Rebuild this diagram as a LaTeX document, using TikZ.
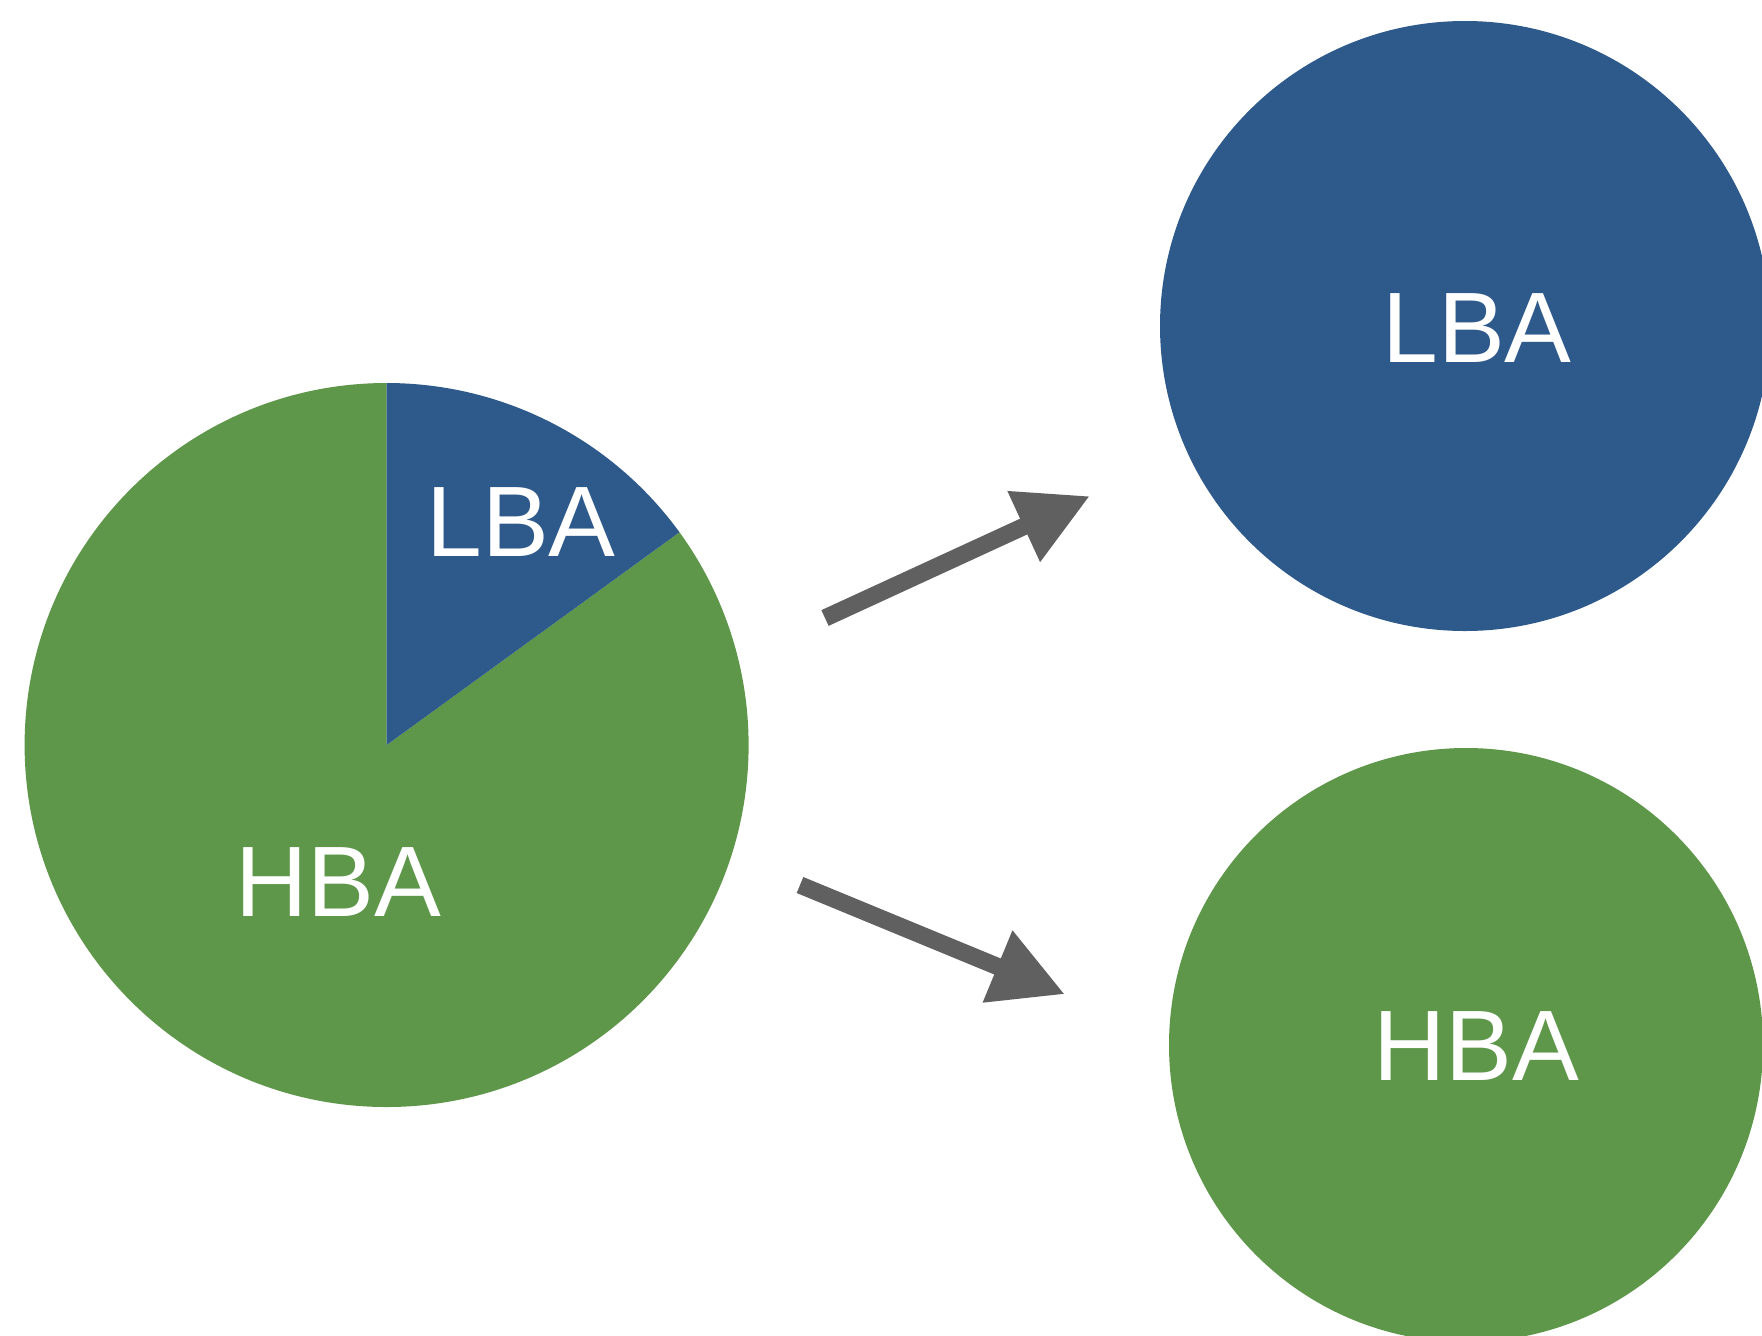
\documentclass[tikz,border=0pt]{standalone}
\usepackage{fontspec}
\setmainfont{Liberation Sans}
\usetikzlibrary{arrows.meta, positioning}
\definecolor{lbaBlue}{HTML}{2E598B}
\definecolor{hbaGreen}{HTML}{5E974A}
\definecolor{arrowGray}{HTML}{606060}

\begin{document}
\begin{tikzpicture}[
  lbl/.style={text=white, font=\fontsize{28.5}{34}\selectfont, inner sep=0pt},
  setcirc/.style={circle, inner sep=0pt, minimum size=#1},
  bigarrow/.style={-{Triangle[length=7.3mm, width=7.3mm]}, line width=1.73mm, draw=arrowGray}
]
\useasboundingbox (0,0) rectangle (17.62,13.35);

% Pie chart
\coordinate (pie) at (3.866,5.90);
\fill[hbaGreen] (pie) -- ++(90:3.62) arc[start angle=90, end angle=396, radius=3.62] -- cycle;
\fill[lbaBlue] (pie) -- ++(36:3.62) arc[start angle=36, end angle=90, radius=3.62] -- cycle;
\node[lbl] (pielba) at (5.21,8.125) {LBA};
\node[lbl] (piehba) at (3.38,4.53) {HBA};

% Split sets
\node[setcirc=6.1cm, fill=lbaBlue] (lbaset) at (14.65,10.09) {};
\node[lbl] (lbatext) at ([xshift=1.2mm, yshift=-0.2mm]lbaset.center) {LBA};
\node[setcirc=5.94cm, fill=hbaGreen] (hbaset) at (14.66,2.90) {};
\node[lbl] (hbatext) at ([xshift=1.0mm, yshift=-0.1mm]hbaset.center) {HBA};

% Arrows
\coordinate (upfrom) at (8.25,7.17);
\coordinate (upto) at (10.90,8.39);
\coordinate (downfrom) at (8.00,4.50);
\coordinate (downto) at (10.65,3.407);
\draw[bigarrow] (upfrom) -- (upto);
\draw[bigarrow] (downfrom) -- (downto);
\end{tikzpicture}
\end{document}
